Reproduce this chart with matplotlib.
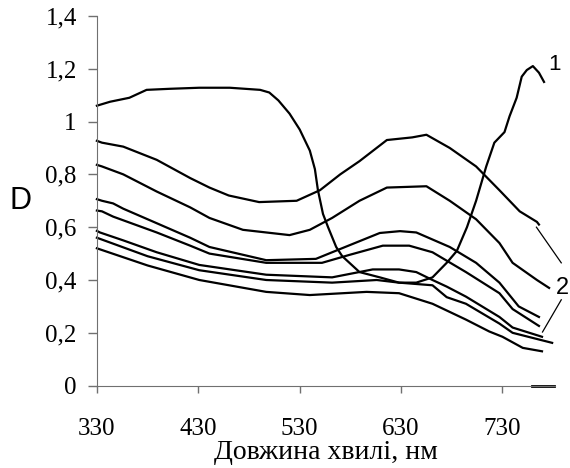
import numpy as np
import matplotlib
matplotlib.use("Agg")
from matplotlib import pyplot as plt

# curve 1
wl_1 = [330, 343, 362, 379, 402, 431, 461, 491, 500, 509, 520, 530, 540, 545, 548, 553,
        558, 566, 572, 589, 609, 628, 645, 661, 675, 685, 695, 704, 714, 722, 732, 737,
        744, 749, 754, 760, 766, 771]
d_1 = [1.06, 1.075, 1.09, 1.12, 1.124, 1.128, 1.128, 1.12, 1.11, 1.08, 1.03, 0.97, 0.89,
       0.82, 0.74, 0.65, 0.60, 0.525, 0.49, 0.43, 0.41, 0.39, 0.39, 0.41, 0.465, 0.51,
       0.60, 0.70, 0.83, 0.92, 0.96, 1.02, 1.09, 1.17, 1.195, 1.21, 1.185, 1.15]

# curves 2 (seven spectra, top to bottom)
wl_2a = [330, 335, 356, 389, 422, 441, 460, 490, 527, 550, 570, 589, 616, 641, 655, 678,
         704, 727, 747, 764, 766]
d_2a = [0.927, 0.92, 0.905, 0.855, 0.786, 0.75, 0.72, 0.695, 0.70, 0.74, 0.80, 0.85, 0.93,
        0.94, 0.95, 0.90, 0.83, 0.74, 0.66, 0.62, 0.61]

wl_2b = [330, 335, 356, 389, 422, 441, 474, 520, 540, 562, 589, 616, 655, 678, 704, 727,
         740, 764, 776]
d_2b = [0.836, 0.83, 0.80, 0.735, 0.675, 0.635, 0.59, 0.57, 0.59, 0.635, 0.70, 0.75, 0.755,
        0.70, 0.63, 0.54, 0.465, 0.40, 0.37]

wl_2c = [330, 335, 346, 356, 389, 422, 441, 497, 546, 562, 609, 629, 645, 663, 678, 704,
         727, 746, 766]
d_2c = [0.706, 0.70, 0.69, 0.67, 0.615, 0.56, 0.525, 0.475, 0.48, 0.505, 0.578, 0.585, 0.58,
        0.55, 0.525, 0.465, 0.39, 0.30, 0.26]

wl_2d = [330, 335, 346, 389, 422, 441, 497, 552, 579, 612, 638, 661, 694, 727, 740, 766]
d_2d = [0.663, 0.66, 0.64, 0.58, 0.53, 0.50, 0.465, 0.465, 0.495, 0.53, 0.53, 0.505, 0.43,
        0.35, 0.29, 0.226]

wl_2e = [330, 333, 356, 389, 431, 497, 562, 602, 628, 645, 661, 675, 694, 727, 740, 769]
d_2e = [0.586, 0.58, 0.55, 0.505, 0.457, 0.42, 0.41, 0.44, 0.44, 0.43, 0.40, 0.375, 0.337,
        0.26, 0.22, 0.185]

wl_2f = [330, 380, 431, 497, 562, 606, 628, 661, 675, 694, 727, 740, 779]
d_2f = [0.56, 0.49, 0.437, 0.40, 0.39, 0.40, 0.39, 0.38, 0.335, 0.31, 0.235, 0.20, 0.162]

wl_2g = [330, 380, 431, 497, 540, 596, 628, 661, 694, 717, 730, 750, 769]
d_2g = [0.52, 0.455, 0.40, 0.355, 0.343, 0.355, 0.35, 0.31, 0.25, 0.205, 0.185, 0.143, 0.13]

x_ticks = [330, 430, 530, 630, 730]
y_ticks = [0, 0.2, 0.4, 0.6, 0.8, 1.0, 1.2, 1.4]
y_labels = ["0", "0,2", "0,4", "0,6", "0,8", "1", "1,2", "1,4"]

serif = "Liberation Serif"
sans = "Liberation Sans"
axis_col = "#707070"

fig = plt.figure(figsize=(5.7, 4.68), dpi=100)
ax = fig.add_axes([0.170, 0.176, 0.804, 0.790])

curves2 = [(wl_2a, d_2a), (wl_2b, d_2b), (wl_2c, d_2c), (wl_2d, d_2d),
           (wl_2e, d_2e), (wl_2f, d_2f), (wl_2g, d_2g)]
for wl, d in curves2:
    ax.plot(wl, d, color="black", lw=1.6, clip_on=False)
ax.plot(wl_1, d_1, color="black", lw=1.6, clip_on=False)

ax.set_xlim(330, 782)
ax.set_ylim(0, 1.4)

for s in ["top", "right"]:
    ax.spines[s].set_visible(False)
ax.spines["left"].set_color(axis_col)
ax.spines["bottom"].set_color(axis_col)

ax.set_xticks(x_ticks)
ax.set_xticklabels([str(v) for v in x_ticks], fontfamily=serif, fontsize=18)
ax.set_yticks(y_ticks)
ax.set_yticklabels(y_labels, fontfamily=serif, fontsize=18)
ax.tick_params(axis="x", direction="out", length=5, width=1, color=axis_col, pad=18)
ax.tick_params(axis="y", direction="out", length=6.5, width=1, color=axis_col, pad=8)

ax.set_xlabel("Довжина хвилі, нм", fontfamily=serif, fontsize=20, labelpad=0.5)
fig.text(20 / 570, 1 - 201 / 468, "D", fontfamily=sans, fontsize=22,
         ha="center", va="center")

# curve labels and leader lines
ax.text(781, 1.215, "1", fontfamily=sans, fontsize=16, ha="center", va="center",
        clip_on=False)
ax.text(789, 0.37, "2", fontfamily=sans, fontsize=17, ha="center", va="center",
        clip_on=False)
ax.plot([763.5, 788], [0.60, 0.465], color="black", lw=0.9, clip_on=False)
ax.plot([788, 769.5], [0.325, 0.203], color="black", lw=0.9, clip_on=False)

# short black stub at the end of the x axis
ax.plot([759.6, 781], [0, 0], color="black", lw=2, clip_on=False)

fig.savefig("out.png", dpi=100)
